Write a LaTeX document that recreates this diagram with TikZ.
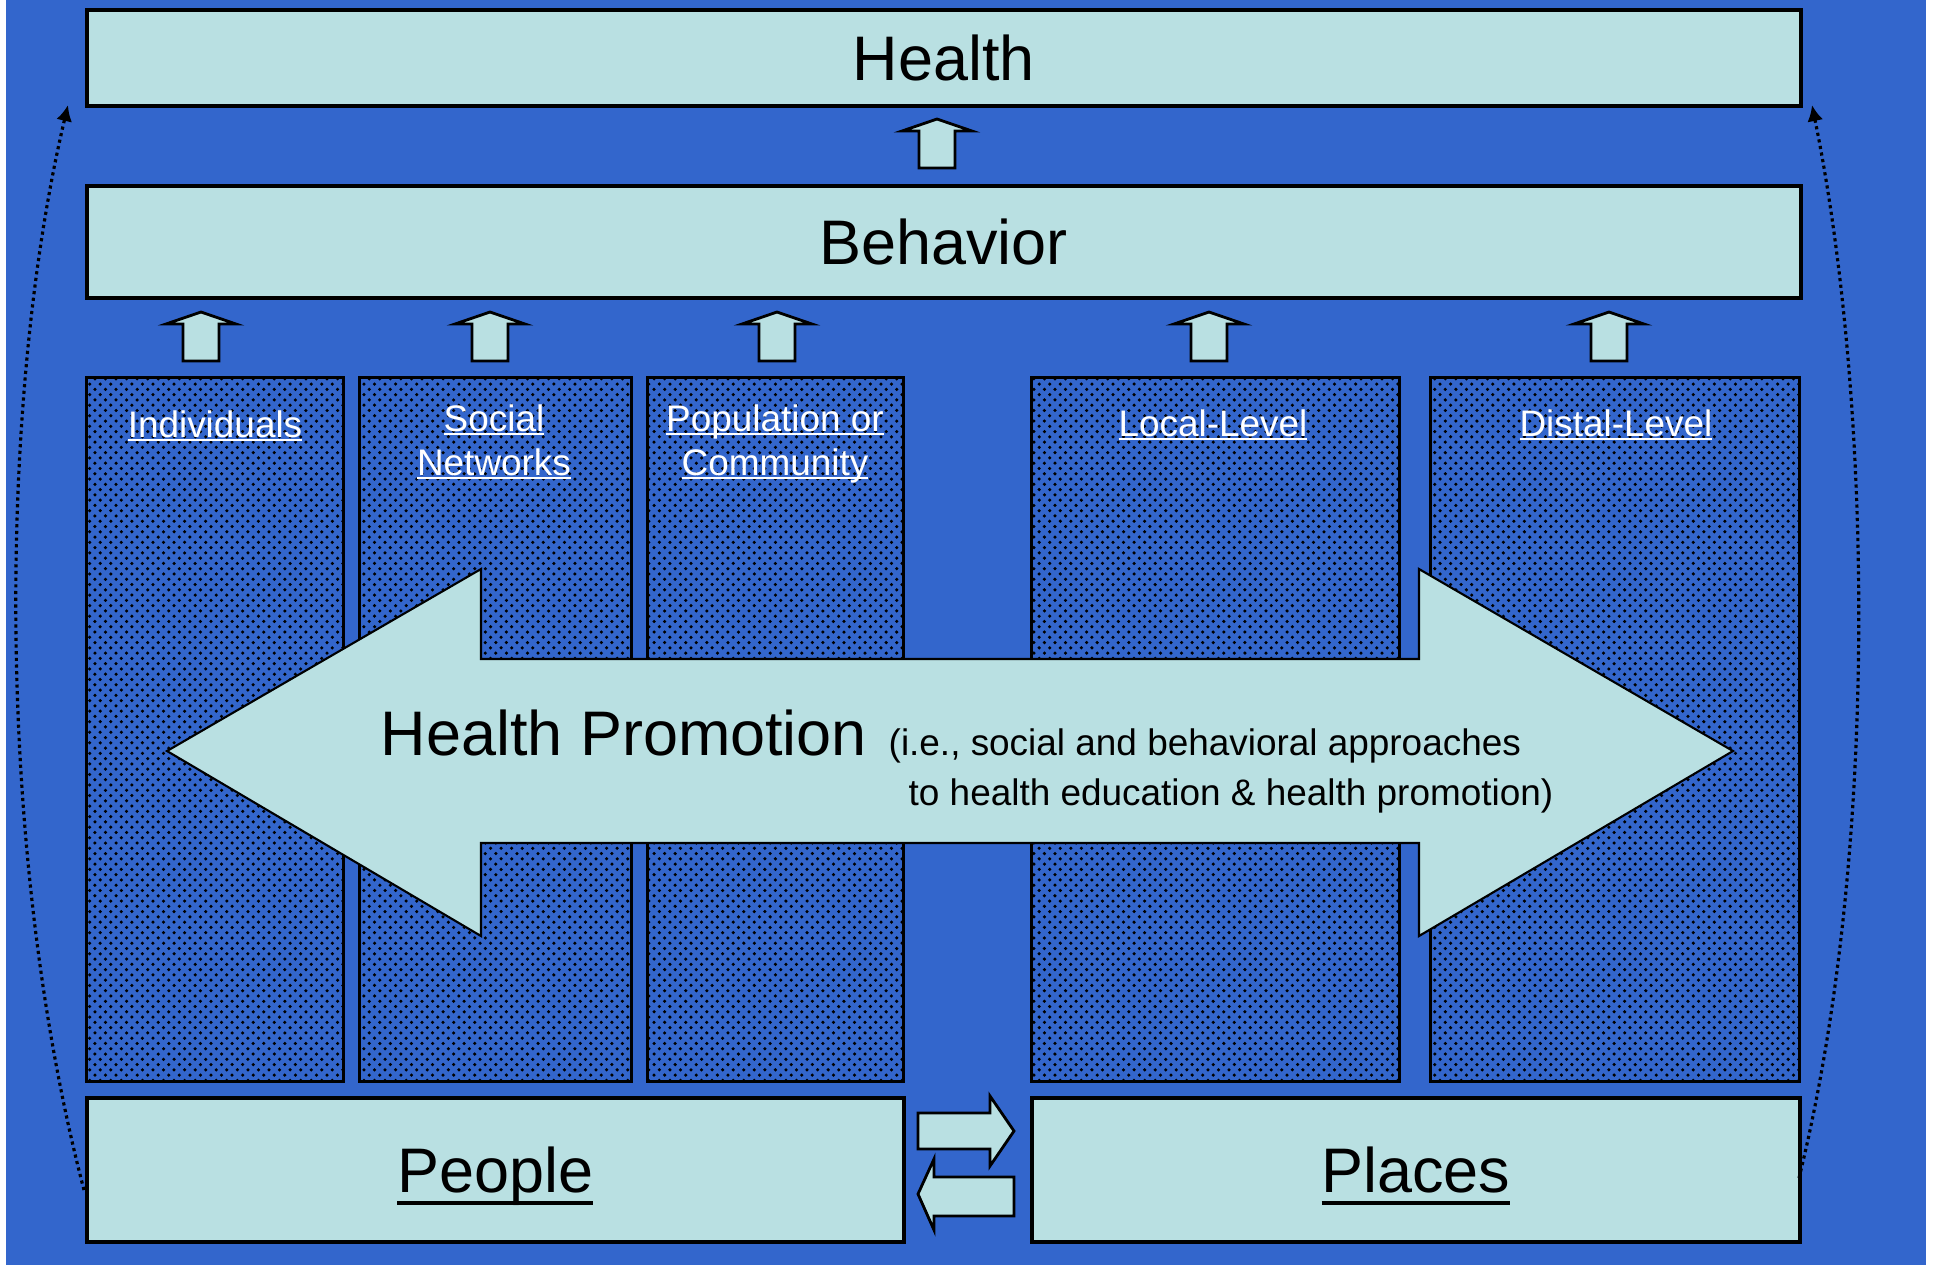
\documentclass[tikz,border=0pt]{standalone}
\usepackage{fontspec}
\setmainfont{Liberation Sans}
\usetikzlibrary{arrows.meta,patterns}
\definecolor{slideblue}{RGB}{51,102,204}
\definecolor{paleaqua}{RGB}{185,224,226}
\newcommand{\undl}[2][0.1em]{\setbox0\hbox{#2}\rlap{\rule[-#1]{\wd0}{0.06em}}\box0}
\begin{document}
\begin{tikzpicture}[x=0.01cm,y=-0.01cm,
    tier/.style={draw=black,line width=1pt,fill=paleaqua,inner sep=0pt,anchor=north west,text depth=0pt,font=\fontsize{17.9}{21.5}\selectfont},
    level/.style={draw=black,line width=0.8pt,pattern=crosshatch dots,pattern color=black,preaction={fill=slideblue},inner sep=0pt,anchor=north west},
    levelname/.style={text=white,inner sep=0pt,anchor=north,align=center,font=\fontsize{10.5}{12.6}\selectfont},
    blockarr/.style={draw=black,line width=0.8pt,fill=paleaqua,line join=miter},
    feedback/.style={densely dotted,line width=0.9pt,-{Latex[length=0.16cm,width=0.16cm]}}]
    \useasboundingbox (0,0) rectangle (1935,1265);

    % background
    \fill[white] (0,0) rectangle (1935,1265);
    \fill[slideblue] (6,0) rectangle (1926,1265);

    % outcome tiers
    \node[tier,minimum width=17.13cm,minimum height=0.96cm] (health) at (85,8) {Health};
    \node[tier,minimum width=17.13cm,minimum height=1.12cm] (behavior) at (85,184) {Behavior};

    % levels
    \node[level,minimum width=2.57cm,minimum height=7.04cm] (indiv) at (85,376) {};
    \node[level,minimum width=2.72cm,minimum height=7.04cm] (social) at (358,376) {};
    \node[level,minimum width=2.56cm,minimum height=7.04cm] (popul) at (646,376) {};
    \node[level,minimum width=3.68cm,minimum height=7.04cm] (local) at (1030,376) {};
    \node[level,minimum width=3.69cm,minimum height=7.04cm] (distal) at (1429,376) {};

    \node[levelname] (indivname) at (215,410) {\undl{Individuals}};
    \node[levelname] (socialname) at (494,404) {\undl{Social}\\\undl{Networks}};
    \node[levelname] (populname) at (775,404) {\undl{Population or}\\\undl{Community}};
    \node[levelname] (localname) at (1213,409) {\undl{Local-Level}};
    \node[levelname] (distalname) at (1616,409) {\undl{Distal-Level}};

    % up arrows
    \foreach \ax/\ay in {937/119,201/312,490/312,777/312,1209/312,1609/312}{
        \draw[blockarr] (\ax,\ay) -- ++(35,12) -- ++(-17,0) -- ++(0,37) -- ++(-36,0) -- ++(0,-37) -- ++(-17,0) -- cycle;
    }

    % health promotion arrow
    \draw[blockarr,line width=0.6pt] (167,751) -- (481,569) -- (481,659) -- (1419,659) -- (1419,569) -- (1733,751)
        -- (1419,936) -- (1419,843) -- (481,843) -- (481,936) -- cycle;
    \node[anchor=base west,inner sep=0pt,font=\fontsize{17.9}{21.5}\selectfont] (hp) at (380,755) {Health Promotion};
    \node[anchor=north west,inner sep=0pt,align=left,font=\fontsize{10.5}{14.2}\selectfont] (hpnote) at (888,728)
        {(i.e., social and behavioral approaches\\\hspace*{0.2cm}to health education \& health promotion)};

    % people and places
    \node[tier,minimum width=8.17cm,minimum height=1.44cm] (people) at (85,1096) {\undl[0.19em]{People}};
    \node[tier,minimum width=7.68cm,minimum height=1.44cm] (places) at (1030,1096) {\undl[0.19em]{Places}};

    \draw[blockarr] (918,1113) -- (990,1113) -- (990,1096) -- (1014,1131) -- (990,1166) -- (990,1149) -- (918,1149) -- cycle;
    \draw[blockarr] (918,1194) -- (934,1159) -- (934,1177) -- (1014,1177) -- (1014,1216) -- (934,1216) -- (934,1230) -- cycle;

    % feedback
    \coordinate (lfoot) at (84,1190);
    \coordinate (ltip) at (68,105);
    \coordinate (rfoot) at (1799,1178);
    \coordinate (rtip) at (1812,105);
    \draw[feedback] (lfoot) .. controls (-5,850) and (-2,400) .. (ltip);
    \draw[feedback] (rfoot) .. controls (1880,850) and (1872,400) .. (rtip);
\end{tikzpicture}
\end{document}
